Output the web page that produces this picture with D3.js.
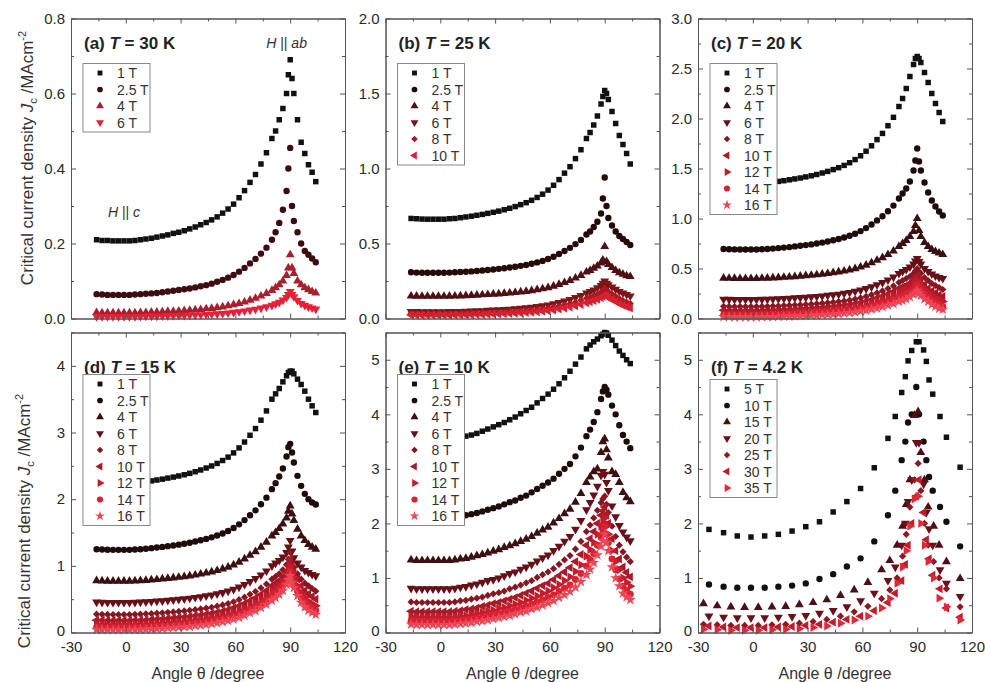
<!DOCTYPE html>
<html>
<head>
<meta charset="utf-8">
<script src="https://cdn.jsdelivr.net/npm/d3@7"></script>
<style>
body { margin: 0; background: #fff; }
svg text { font-family: "Liberation Sans", Arial, sans-serif; }
</style>
</head>
<body>
<svg id="chart" width="985" height="682"></svg>
<script>
// angles (degree) used in panels a-e
const anglesAE = [-16,-13,-10,-7,-4,-1,2,5,8,11,14,17,
  20,23,26,29,32,35,38,41,44,47,50,
  53,56,59,62,65,68,71,74,77,80,
  82,84,86,88,89,90,91,92,94,96,98,100,102,104];
// panel f is sampled more coarsely, two interleaved sets
const fAngA = [-24,-16,-8.5,-1,6.5,14,21.5,29,36.5,44,51.5,59,66.5,74,78,81.5,83.5,85,87,89.5,91,93.5,95,96.5,98.5,102.5,106,113.5];
const fAngB = [-27,-19.5,-12,-4.5,3,10.5,18,25.5,33,40.5,48,55.5,63,70.5,75,79,82,84,86,88.5,90.5,92,94,96,99,102,106,113.5];

const fieldsA = ['1 T', '2.5 T', '4 T', '6 T'];
const fieldsB = ['1 T', '2.5 T', '4 T', '6 T', '8 T', '10 T'];
const fields9 = ['1 T', '2.5 T', '4 T', '6 T', '8 T', '10 T', '12 T', '14 T', '16 T'];
const fieldsF = ['5 T', '10 T', '15 T', '20 T', '25 T', '30 T', '35 T'];

// (a) T = 30 K
const jcA = [
  [0.21,0.208,0.208,0.207,0.207,0.207,0.207,0.208,0.21,0.212,0.214,0.217,
   0.22,0.223,0.227,0.23,0.234,0.239,0.244,0.25,0.256,0.263,0.271,
   0.281,0.292,0.305,0.322,0.341,0.363,0.384,0.412,0.442,0.48,
   0.5,0.53,0.56,0.6,0.65,0.69,0.64,0.6,0.53,0.47,0.44,0.41,0.39,0.365],
  [0.065,0.064,0.063,0.063,0.063,0.063,0.063,0.064,0.065,0.066,0.067,0.068,
   0.07,0.072,0.074,0.076,0.078,0.08,0.083,0.086,0.089,0.093,0.098,
   0.103,0.109,0.116,0.125,0.135,0.147,0.159,0.173,0.189,0.21,
   0.23,0.255,0.29,0.34,0.4,0.455,0.3,0.26,0.23,0.2,0.18,0.17,0.16,0.15],
  [0.016,0.015,0.015,0.015,0.015,0.015,0.015,0.015,0.016,0.016,0.017,0.017,
   0.018,0.019,0.019,0.02,0.021,0.022,0.023,0.024,0.026,0.027,0.029,
   0.031,0.034,0.037,0.04,0.044,0.049,0.054,0.06,0.067,0.075,
   0.082,0.09,0.1,0.115,0.135,0.17,0.135,0.12,0.1,0.09,0.082,0.077,0.072,0.068],
  [0.005,0.005,0.005,0.005,0.005,0.005,0.005,0.005,0.0055,0.006,0.0062,0.0065,
   0.0068,0.0072,0.0075,0.008,0.0084,0.0089,0.0095,0.0101,0.0108,0.0116,0.0125,
   0.0135,0.0147,0.0162,0.018,0.02,0.0224,0.0248,0.0277,0.031,0.035,
   0.039,0.043,0.049,0.056,0.064,0.072,0.064,0.058,0.048,0.04,0.035,0.031,0.028,0.025]
];

// (b) T = 25 K
const jcB = [
  [0.667,0.665,0.663,0.662,0.662,0.662,0.662,0.665,0.667,0.672,0.677,0.682,
   0.688,0.694,0.701,0.708,0.716,0.725,0.735,0.746,0.759,0.772,0.788,
   0.807,0.829,0.856,0.888,0.926,0.969,1.012,1.066,1.125,1.2,
   1.24,1.29,1.35,1.43,1.48,1.52,1.5,1.46,1.38,1.3,1.22,1.16,1.1,1.03],
  [0.308,0.306,0.305,0.305,0.305,0.305,0.305,0.306,0.308,0.31,0.312,0.314,
   0.317,0.32,0.323,0.327,0.331,0.335,0.34,0.345,0.351,0.357,0.365,
   0.374,0.384,0.397,0.412,0.43,0.45,0.471,0.496,0.524,0.56,
   0.58,0.61,0.645,0.7,0.8,0.94,0.75,0.67,0.62,0.58,0.55,0.53,0.51,0.49],
  [0.15,0.149,0.148,0.148,0.148,0.148,0.148,0.149,0.15,0.151,0.152,0.154,
   0.156,0.158,0.16,0.162,0.164,0.167,0.17,0.173,0.177,0.181,0.186,
   0.192,0.198,0.206,0.216,0.227,0.24,0.253,0.27,0.287,0.31,
   0.32,0.335,0.35,0.37,0.39,0.48,0.38,0.36,0.34,0.32,0.305,0.295,0.285,0.28],
  [0.046,0.046,0.045,0.045,0.045,0.045,0.045,0.046,0.046,0.047,0.048,0.05,
   0.051,0.052,0.054,0.056,0.058,0.06,0.062,0.065,0.068,0.071,0.074,
   0.079,0.084,0.09,0.098,0.106,0.116,0.126,0.139,0.153,0.17,
   0.18,0.19,0.205,0.22,0.235,0.25,0.235,0.225,0.21,0.195,0.18,0.17,0.16,0.15],
  [0.034,0.033,0.033,0.033,0.033,0.033,0.033,0.034,0.034,0.035,0.036,0.037,
   0.038,0.039,0.04,0.042,0.043,0.045,0.047,0.049,0.051,0.054,0.057,
   0.061,0.065,0.07,0.076,0.083,0.091,0.099,0.109,0.121,0.135,
   0.143,0.152,0.162,0.175,0.188,0.2,0.188,0.178,0.163,0.148,0.133,0.12,0.11,0.1],
  [0.023,0.022,0.022,0.022,0.022,0.022,0.022,0.022,0.023,0.023,0.024,0.025,
   0.026,0.027,0.028,0.029,0.03,0.032,0.033,0.035,0.037,0.039,0.042,
   0.044,0.048,0.052,0.057,0.063,0.069,0.076,0.084,0.093,0.105,
   0.112,0.12,0.128,0.138,0.148,0.155,0.148,0.14,0.127,0.113,0.1,0.088,0.078,0.07]
];

// (c) T = 20 K
const jcC = [
  [1.358,1.354,1.352,1.35,1.35,1.35,1.35,1.354,1.358,1.364,1.371,1.378,
   1.387,1.396,1.405,1.416,1.427,1.44,1.455,1.471,1.489,1.508,1.531,
   1.558,1.589,1.627,1.673,1.727,1.789,1.851,1.928,2.012,2.12,
   2.2,2.3,2.42,2.54,2.6,2.62,2.6,2.56,2.46,2.36,2.25,2.15,2.06,1.97],
  [0.695,0.693,0.691,0.69,0.69,0.69,0.69,0.693,0.695,0.699,0.704,0.709,
   0.714,0.721,0.727,0.734,0.741,0.75,0.759,0.77,0.782,0.795,0.81,
   0.828,0.848,0.874,0.904,0.94,0.981,1.022,1.073,1.129,1.2,
   1.25,1.3,1.37,1.48,1.58,1.7,1.57,1.48,1.36,1.26,1.18,1.12,1.07,1.03],
  [0.403,0.402,0.401,0.4,0.4,0.4,0.4,0.402,0.403,0.406,0.409,0.412,
   0.415,0.419,0.423,0.428,0.432,0.437,0.444,0.45,0.458,0.466,0.475,
   0.486,0.499,0.515,0.534,0.557,0.582,0.608,0.64,0.675,0.72,
   0.75,0.78,0.82,0.87,0.93,1.0,0.88,0.82,0.76,0.72,0.69,0.67,0.655,0.64],
  [0.193,0.191,0.19,0.19,0.19,0.19,0.19,0.191,0.193,0.195,0.197,0.2,
   0.202,0.206,0.209,0.212,0.216,0.22,0.225,0.231,0.237,0.243,0.251,
   0.26,0.271,0.284,0.299,0.317,0.338,0.359,0.385,0.414,0.45,
   0.47,0.49,0.515,0.545,0.575,0.6,0.57,0.545,0.5,0.47,0.445,0.425,0.41,0.4],
  [0.122,0.121,0.12,0.12,0.12,0.12,0.12,0.121,0.122,0.124,0.126,0.129,
   0.132,0.134,0.137,0.141,0.144,0.148,0.153,0.158,0.163,0.169,0.176,
   0.185,0.194,0.206,0.221,0.238,0.257,0.276,0.3,0.326,0.36,
   0.38,0.4,0.42,0.45,0.475,0.5,0.47,0.45,0.41,0.38,0.35,0.33,0.31,0.29],
  [0.082,0.081,0.08,0.08,0.08,0.08,0.08,0.081,0.082,0.084,0.086,0.088,
   0.091,0.093,0.096,0.099,0.102,0.106,0.11,0.115,0.12,0.125,0.132,
   0.139,0.148,0.159,0.172,0.188,0.205,0.223,0.245,0.269,0.3,
   0.315,0.33,0.35,0.38,0.405,0.43,0.405,0.38,0.34,0.3,0.275,0.255,0.235,0.22],
  [0.052,0.051,0.05,0.05,0.05,0.05,0.05,0.051,0.052,0.054,0.056,0.058,
   0.06,0.063,0.065,0.068,0.071,0.075,0.079,0.083,0.088,0.093,0.099,
   0.107,0.115,0.126,0.138,0.153,0.17,0.187,0.208,0.231,0.26,
   0.275,0.29,0.31,0.335,0.36,0.38,0.355,0.33,0.29,0.26,0.23,0.21,0.19,0.17],
  [0.032,0.031,0.03,0.03,0.03,0.03,0.03,0.031,0.032,0.033,0.035,0.037,
   0.039,0.041,0.043,0.045,0.048,0.051,0.054,0.058,0.062,0.067,0.072,
   0.079,0.086,0.095,0.106,0.118,0.133,0.147,0.165,0.185,0.21,
   0.225,0.24,0.26,0.285,0.31,0.33,0.305,0.28,0.24,0.21,0.18,0.16,0.14,0.12],
  [0.017,0.016,0.015,0.015,0.015,0.015,0.015,0.016,0.017,0.018,0.019,0.021,
   0.022,0.024,0.026,0.028,0.031,0.033,0.036,0.039,0.043,0.047,0.051,
   0.057,0.063,0.071,0.08,0.091,0.103,0.116,0.131,0.148,0.17,
   0.18,0.195,0.215,0.24,0.26,0.28,0.255,0.23,0.195,0.17,0.14,0.12,0.1,0.09]
];

// (d) T = 15 K
const jcD = [
  [2.253,2.246,2.243,2.24,2.24,2.24,2.24,2.246,2.253,2.263,2.274,2.287,
   2.3,2.316,2.331,2.348,2.366,2.387,2.411,2.438,2.467,2.498,2.536,
   2.58,2.631,2.694,2.769,2.857,2.958,3.059,3.185,3.324,3.5,
   3.58,3.66,3.76,3.85,3.9,3.92,3.92,3.88,3.8,3.72,3.62,3.5,3.4,3.3],
  [1.249,1.245,1.242,1.24,1.24,1.24,1.24,1.245,1.249,1.256,1.265,1.274,
   1.284,1.295,1.306,1.318,1.331,1.346,1.364,1.383,1.404,1.427,1.454,
   1.486,1.522,1.568,1.622,1.686,1.759,1.832,1.923,2.023,2.15,
   2.24,2.34,2.46,2.64,2.78,2.83,2.7,2.55,2.35,2.2,2.08,2.0,1.95,1.92],
  [0.777,0.773,0.771,0.77,0.77,0.77,0.77,0.773,0.777,0.782,0.788,0.795,
   0.803,0.811,0.819,0.828,0.838,0.85,0.862,0.877,0.892,0.909,0.93,
   0.954,0.981,1.015,1.056,1.103,1.158,1.212,1.28,1.355,1.45,
   1.5,1.56,1.63,1.72,1.82,1.9,1.78,1.68,1.55,1.45,1.38,1.32,1.28,1.25],
  [0.456,0.453,0.451,0.45,0.45,0.45,0.45,0.453,0.456,0.46,0.465,0.47,
   0.476,0.483,0.49,0.497,0.505,0.514,0.525,0.536,0.549,0.563,0.579,
   0.599,0.621,0.648,0.681,0.72,0.764,0.808,0.863,0.923,1.0,
   1.04,1.08,1.13,1.2,1.28,1.38,1.22,1.12,1.04,0.98,0.93,0.9,0.87,0.85],
  [0.275,0.273,0.271,0.27,0.27,0.27,0.27,0.273,0.275,0.28,0.284,0.29,
   0.295,0.302,0.308,0.316,0.323,0.332,0.342,0.353,0.365,0.379,0.395,
   0.413,0.434,0.461,0.493,0.53,0.572,0.615,0.668,0.726,0.8,
   0.84,0.88,0.94,1.02,1.1,1.2,1.06,0.98,0.88,0.8,0.74,0.7,0.66,0.62],
  [0.185,0.183,0.181,0.18,0.18,0.18,0.18,0.183,0.185,0.189,0.194,0.199,
   0.205,0.211,0.217,0.225,0.232,0.241,0.251,0.262,0.274,0.287,0.302,
   0.32,0.341,0.367,0.398,0.435,0.476,0.518,0.57,0.627,0.7,
   0.74,0.78,0.84,0.92,1.0,1.1,0.98,0.9,0.8,0.7,0.63,0.58,0.54,0.5],
  [0.125,0.123,0.121,0.12,0.12,0.12,0.12,0.123,0.125,0.129,0.134,0.139,
   0.144,0.15,0.156,0.163,0.17,0.179,0.188,0.199,0.21,0.223,0.238,
   0.255,0.275,0.3,0.33,0.365,0.405,0.445,0.495,0.55,0.62,
   0.66,0.7,0.76,0.84,0.92,1.0,0.9,0.82,0.7,0.6,0.53,0.47,0.43,0.4],
  [0.075,0.072,0.071,0.07,0.07,0.07,0.07,0.072,0.075,0.079,0.083,0.088,
   0.093,0.099,0.105,0.111,0.118,0.126,0.135,0.145,0.156,0.168,0.183,
   0.2,0.219,0.243,0.272,0.305,0.344,0.382,0.43,0.483,0.55,
   0.59,0.64,0.7,0.78,0.85,0.92,0.82,0.74,0.62,0.52,0.45,0.4,0.36,0.33],
  [0.044,0.042,0.041,0.04,0.04,0.04,0.04,0.042,0.044,0.048,0.052,0.056,
   0.061,0.066,0.072,0.078,0.084,0.091,0.1,0.109,0.119,0.13,0.143,
   0.159,0.176,0.198,0.225,0.256,0.291,0.326,0.37,0.418,0.48,
   0.52,0.57,0.63,0.72,0.79,0.85,0.75,0.67,0.55,0.45,0.38,0.33,0.3,0.27]
];

// (e) T = 10 K
const jcE = [
  [3.56,3.56,3.55,3.55,3.55,3.55,3.55,3.56,3.57,3.58,3.6,3.62,
   3.65,3.69,3.73,3.77,3.81,3.85,3.9,3.95,4.01,4.07,4.13,
   4.21,4.29,4.37,4.46,4.56,4.67,4.79,4.92,5.05,5.2,
   5.27,5.33,5.38,5.44,5.47,5.5,5.49,5.45,5.36,5.26,5.16,5.08,5.0,4.93],
  [2.11,2.1,2.1,2.1,2.1,2.1,2.1,2.1,2.12,2.13,2.15,2.17,
   2.19,2.22,2.25,2.28,2.31,2.35,2.39,2.42,2.47,2.51,2.57,
   2.63,2.69,2.75,2.82,2.91,3.0,3.09,3.23,3.39,3.6,
   3.72,3.86,4.04,4.28,4.42,4.5,4.45,4.36,4.16,4.0,3.8,3.62,3.5,3.38],
  [1.33,1.32,1.32,1.32,1.32,1.32,1.32,1.32,1.33,1.35,1.36,1.38,
   1.41,1.43,1.46,1.49,1.52,1.56,1.59,1.63,1.67,1.71,1.76,
   1.82,1.88,1.93,2.01,2.09,2.18,2.26,2.39,2.55,2.75,
   2.85,2.95,3.0,3.3,3.5,3.55,3.35,3.2,2.95,2.9,2.75,2.57,2.47,2.4],
  [0.81,0.8,0.8,0.8,0.8,0.8,0.8,0.8,0.81,0.83,0.84,0.87,
   0.89,0.92,0.95,0.97,1.0,1.04,1.08,1.11,1.16,1.2,1.25,
   1.31,1.37,1.42,1.5,1.58,1.67,1.76,1.89,2.05,2.25,
   2.38,2.52,2.68,2.88,2.95,2.9,2.75,2.6,2.32,2.12,1.96,1.84,1.75,1.68],
  [0.56,0.55,0.55,0.55,0.55,0.55,0.55,0.55,0.56,0.58,0.59,0.61,
   0.63,0.65,0.68,0.71,0.73,0.76,0.8,0.83,0.87,0.91,0.95,
   1.01,1.06,1.11,1.17,1.25,1.33,1.41,1.53,1.67,1.85,
   1.97,2.1,2.24,2.38,2.45,2.5,2.35,2.2,1.95,1.76,1.6,1.48,1.38,1.3],
  [0.39,0.38,0.38,0.38,0.38,0.38,0.38,0.38,0.39,0.4,0.42,0.43,
   0.45,0.48,0.5,0.53,0.55,0.58,0.61,0.64,0.68,0.72,0.76,
   0.81,0.86,0.9,0.97,1.04,1.11,1.19,1.3,1.43,1.6,
   1.72,1.85,2.0,2.15,2.23,2.3,2.15,2.0,1.72,1.5,1.35,1.2,1.1,1.02],
  [0.29,0.28,0.28,0.28,0.28,0.28,0.28,0.28,0.29,0.3,0.31,0.33,
   0.35,0.37,0.39,0.41,0.44,0.46,0.49,0.52,0.55,0.59,0.63,
   0.67,0.72,0.76,0.82,0.88,0.95,1.02,1.12,1.24,1.4,
   1.52,1.65,1.8,1.95,2.03,2.1,1.95,1.8,1.5,1.3,1.15,1.0,0.92,0.85],
  [0.21,0.2,0.2,0.2,0.2,0.2,0.2,0.2,0.21,0.22,0.23,0.25,
   0.26,0.28,0.3,0.32,0.34,0.37,0.39,0.42,0.45,0.48,0.52,
   0.56,0.6,0.64,0.69,0.75,0.81,0.87,0.97,1.08,1.22,
   1.33,1.45,1.6,1.75,1.85,1.95,1.8,1.65,1.35,1.15,0.98,0.85,0.77,0.7],
  [0.15,0.14,0.14,0.14,0.14,0.14,0.14,0.14,0.15,0.16,0.17,0.18,
   0.2,0.21,0.23,0.25,0.27,0.29,0.31,0.34,0.37,0.39,0.43,
   0.46,0.5,0.54,0.58,0.64,0.69,0.75,0.83,0.93,1.06,
   1.16,1.28,1.42,1.58,1.68,1.8,1.65,1.5,1.2,1.0,0.85,0.72,0.65,0.6]
];

// (f) T = 4.2 K
const jcF = [
  [1.89,1.83,1.77,1.75,1.77,1.8,1.86,1.94,2.03,2.21,2.4,2.64,3.02,3.56,3.96,4.4,4.69,4.98,5.17,5.33,5.33,5.18,4.97,4.63,4.37,3.96,3.58,3.03],
  [0.88,0.84,0.82,0.82,0.82,0.84,0.86,0.9,0.98,1.07,1.21,1.36,1.67,2.15,2.6,3.16,3.5,3.85,4.0,4.5,4.0,3.5,3.16,2.85,2.6,2.3,2.03,1.58],
  [0.53,0.49,0.47,0.46,0.46,0.47,0.48,0.51,0.55,0.6,0.68,0.78,0.92,1.15,1.32,1.6,1.95,2.35,2.8,3.98,4.05,3.3,2.8,2.3,1.95,1.6,1.3,0.99],
  [0.3,0.28,0.27,0.27,0.27,0.28,0.29,0.31,0.35,0.4,0.47,0.58,0.72,0.95,1.2,1.6,2.0,2.4,2.8,3.48,3.48,2.72,2.2,1.9,1.6,1.15,0.9,0.66],
  [0.15,0.14,0.13,0.13,0.13,0.14,0.15,0.17,0.2,0.24,0.3,0.38,0.48,0.62,0.78,1.0,1.4,1.8,2.3,2.8,3.1,2.6,2.0,1.6,1.3,1.0,0.8,0.47],
  [0.12,0.1,0.09,0.09,0.09,0.1,0.11,0.13,0.15,0.19,0.24,0.3,0.4,0.55,0.72,0.95,1.25,1.6,2.0,2.5,2.8,2.2,1.7,1.35,1.05,0.8,0.45,0.28],
  [0.06,0.05,0.04,0.04,0.04,0.05,0.06,0.07,0.09,0.12,0.17,0.23,0.3,0.45,0.62,0.9,1.2,1.5,1.95,2.45,2.5,2.0,1.6,1.3,1.0,0.63,0.47,0.23]
];

// colours: black -> dark red -> bright red
const paletteA = ['#111111', '#3e0c10', '#a8202e', '#e62039'];
const paletteB = ['#111111', '#260a0a', '#4e1014', '#7e1418', '#a81a24', '#d82030'];
const palette9 = ['#111111', '#1e0b0b', '#3c1012', '#661018', '#861622', '#a81a28', '#c41c2c', '#d82232', '#ec4656'];
const paletteF = ['#111111', '#151010', '#4a1014', '#6a1018', '#8c1822', '#c01c2c', '#e02838'];

const shapes = [
    { type: d3.symbolSquare, rot: 0, size: 30 },
    { type: d3.symbolCircle, rot: 0, size: 32 },
    { type: d3.symbolTriangle, rot: 0, size: 34 },
    { type: d3.symbolTriangle, rot: 180, size: 34 },
    { type: d3.symbolSquare, rot: 45, size: 26 },
    { type: d3.symbolTriangle, rot: -90, size: 34 },
    { type: d3.symbolTriangle, rot: 90, size: 34 },
    { type: d3.symbolCircle, rot: 0, size: 38 },
    { type: d3.symbolStar, rot: 0, size: 38 }
];

const panels = [
    { tag: 'a', temp: '30', yMax: 0.8, yStep: 0.2, fmt: '.1f', fields: fieldsA, values: jcA, colors: paletteA, col: 0, row: 0 },
    { tag: 'b', temp: '25', yMax: 2.0, yStep: 0.5, fmt: '.1f', fields: fieldsB, values: jcB, colors: paletteB, col: 1, row: 0 },
    { tag: 'c', temp: '20', yMax: 3.0, yStep: 0.5, fmt: '.1f', fields: fields9, values: jcC, colors: palette9, col: 2, row: 0 },
    { tag: 'd', temp: '15', yMax: 4.5, yStep: 1, fmt: 'd', fields: fields9, values: jcD, colors: palette9, col: 0, row: 1 },
    { tag: 'e', temp: '10', yMax: 5.5, yStep: 1, fmt: 'd', fields: fields9, values: jcE, colors: palette9, col: 1, row: 1 },
    { tag: 'f', temp: '4.2', yMax: 5.5, yStep: 1, fmt: 'd', fields: fieldsF, values: jcF, colors: paletteF, col: 2, row: 1,
      angleSets: [fAngA, fAngA, fAngB, fAngA, fAngB, fAngA, fAngB] }
];

const colX = [71, 385.5, 698];
const rowY = [18.5, 332.5];
const W = 274, H = 300;

// plain hyphen for negatives, like the original figure
const hyphen = d3.formatLocale({ decimal: '.', thousands: ',', grouping: [3], currency: ['', ''], minus: '-' });

const svg = d3.select('#chart');

function styleAxis(sel, labelled) {
    sel.attr('color', '#555');
    sel.selectAll('text').attr('font-size', 15).attr('fill', '#2a2a2a');
    if (!labelled) sel.selectAll('text').remove();
}

panels.forEach(p => {
    const g = svg.append('g').attr('transform', 'translate(' + colX[p.col] + ',' + rowY[p.row] + ')');
    const x = d3.scaleLinear().domain([-30, 120]).range([0, W]);
    const y = d3.scaleLinear().domain([0, p.yMax]).range([H, 0]);

    // data points
    p.values.forEach((vals, si) => {
        const shp = shapes[si];
        const ang = p.angleSets ? p.angleSets[si] : anglesAE;
        g.append('g')
            .selectAll('path')
            .data(vals)
            .join('path')
            .attr('d', d3.symbol().type(shp.type).size(shp.size))
            .attr('transform', (d, i) => 'translate(' + x(ang[i]) + ',' + y(d) + ') rotate(' + shp.rot + ')')
            .attr('fill', p.colors[si]);
    });

    // axes / frame with inward ticks
    const xMaj = d3.range(-30, 121, 30), xMin = d3.range(-15, 120, 30);
    const yMaj = d3.range(0, p.yMax + 1e-9, p.yStep);
    const yMin = d3.range(p.yStep / 2, p.yMax + 1e-9, p.yStep);

    g.append('g').attr('transform', 'translate(0,' + H + ')')
        .call(d3.axisBottom(x).tickValues(xMin).tickSize(-3).tickSizeOuter(0).tickFormat(''))
        .call(styleAxis, false);
    g.append('g').attr('transform', 'translate(0,' + H + ')')
        .call(d3.axisBottom(x).tickValues(xMaj).tickSize(-5).tickSizeOuter(0).tickPadding(9).tickFormat(hyphen.format('d')))
        .call(styleAxis, p.row === 1);
    g.append('g')
        .call(d3.axisTop(x).tickValues(xMin).tickSize(-3).tickSizeOuter(0).tickFormat(''))
        .call(styleAxis, false);
    g.append('g')
        .call(d3.axisTop(x).tickValues(xMaj).tickSize(-5).tickSizeOuter(0).tickFormat(''))
        .call(styleAxis, false);
    g.append('g')
        .call(d3.axisLeft(y).tickValues(yMin).tickSize(-3).tickSizeOuter(0).tickFormat(''))
        .call(styleAxis, false);
    const yAx = g.append('g')
        .call(d3.axisLeft(y).tickValues(yMaj).tickSize(-5).tickSizeOuter(0).tickPadding(6).tickFormat(d3.format(p.fmt)))
        .call(styleAxis, true);
    // lift the corner "0" a touch so it clears the "-30" below it
    if (p.row === 1) yAx.selectAll('.tick text').filter(d => d === 0).attr('y', -2);
    g.append('g').attr('transform', 'translate(' + W + ',0)')
        .call(d3.axisRight(y).tickValues(yMin).tickSize(-3).tickSizeOuter(0).tickFormat(''))
        .call(styleAxis, false);
    g.append('g').attr('transform', 'translate(' + W + ',0)')
        .call(d3.axisRight(y).tickValues(yMaj).tickSize(-5).tickSizeOuter(0).tickFormat(''))
        .call(styleAxis, false);

    // panel title
    const title = g.append('text')
        .attr('x', 13)
        .attr('y', p.row === 0 ? 30.5 : 40)
        .attr('font-size', 17)
        .attr('font-weight', 'bold')
        .attr('fill', '#222');
    title.append('tspan').text('(' + p.tag + ') ');
    title.append('tspan').attr('font-style', 'italic').text('T');
    title.append('tspan').text(' = ' + p.temp + ' K');

    // legend
    const step = 16.5;
    const lg = g.append('g').attr('transform', 'translate(12,' + (p.row === 0 ? 45 : (p.tag === 'f' ? 47 : 42)) + ')');
    lg.append('rect')
        .attr('width', 67)
        .attr('height', 19 + (p.fields.length - 1) * step)
        .attr('fill', '#fff')
        .attr('stroke', '#888')
        .attr('stroke-width', 1);
    p.fields.forEach((f, i) => {
        const shp = shapes[i];
        const cy = 9.5 + i * step;
        lg.append('path')
            .attr('d', d3.symbol().type(shp.type).size(shp.size * 0.8))
            .attr('transform', 'translate(17,' + cy + ') rotate(' + shp.rot + ')')
            .attr('fill', p.colors[i]);
        lg.append('text')
            .attr('x', 34)
            .attr('y', cy)
            .attr('dy', '0.36em')
            .attr('font-size', 14)
            .attr('fill', '#333')
            .text(f);
    });

    // orientation notes in panel (a)
    if (p.tag === 'a') {
        const n1 = g.append('text').attr('x', x(88)).attr('y', y(0.722)).attr('text-anchor', 'middle')
            .attr('font-size', 14).attr('fill', '#333');
        n1.append('tspan').attr('font-style', 'italic').text('H');
        n1.append('tspan').text(' || ');
        n1.append('tspan').attr('font-style', 'italic').text('ab');
        const n2 = g.append('text').attr('x', x(-1)).attr('y', y(0.27)).attr('text-anchor', 'middle')
            .attr('font-size', 14).attr('fill', '#333');
        n2.append('tspan').attr('font-style', 'italic').text('H');
        n2.append('tspan').text(' || ');
        n2.append('tspan').attr('font-style', 'italic').text('c');
    }

    // x axis title for bottom row
    if (p.row === 1) {
        svg.append('text')
            .attr('x', colX[p.col] + W / 2)
            .attr('y', 679)
            .attr('text-anchor', 'middle')
            .attr('font-size', 16)
            .attr('fill', '#333')
            .text('Angle \u03b8 /degree');
    }
});

// y axis titles
[[33, 158], [30, 521]].forEach(pos => {
    const t = svg.append('text')
        .attr('transform', 'translate(' + pos[0] + ',' + pos[1] + ') rotate(-90)')
        .attr('text-anchor', 'middle')
        .attr('font-size', 17)
        .attr('fill', '#333');
    t.append('tspan').text('Critical current density ');
    t.append('tspan').attr('font-style', 'italic').text('J');
    t.append('tspan').attr('font-size', 11).attr('dy', 4).text('c');
    t.append('tspan').attr('dy', -4).text(' /MAcm');
    t.append('tspan').attr('font-size', 11).attr('dy', -7).text('-2');
});
</script>
</body>
</html>
